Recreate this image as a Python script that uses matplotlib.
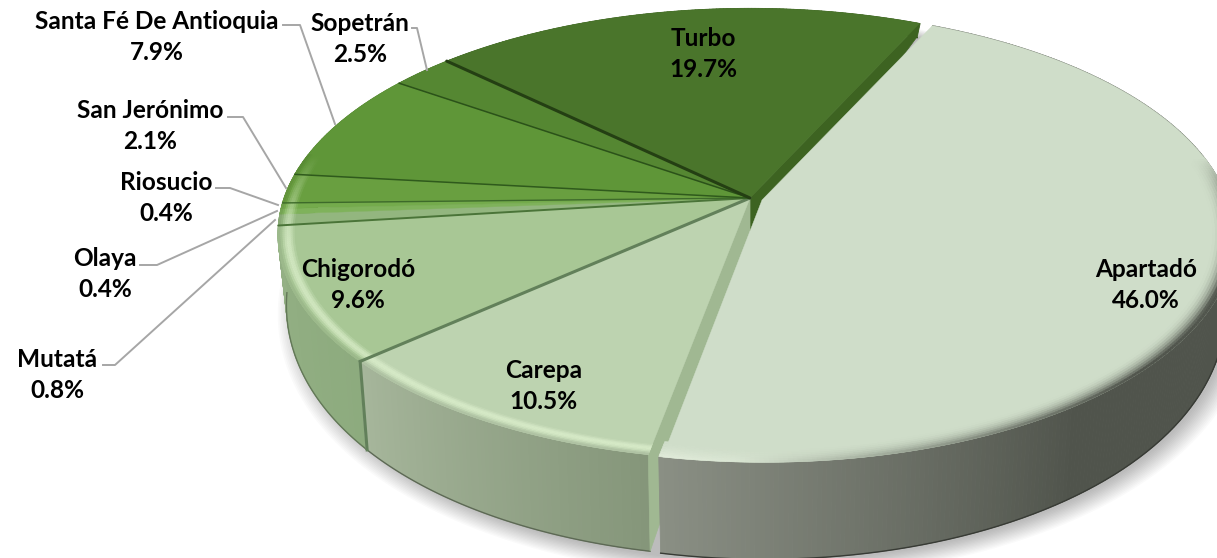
import numpy as np
import matplotlib
matplotlib.use('Agg')
import matplotlib.pyplot as plt
from matplotlib.collections import PolyCollection
from matplotlib.colors import to_rgb

municipios = ['Apartadó', 'Carepa', 'Chigorodó', 'Mutatá', 'Olaya', 'Riosucio',
              'San Jerónimo', 'Santa Fé De Antioquia', 'Sopetrán', 'Turbo']
porcentajes = [46.0, 10.5, 9.6, 0.8, 0.4, 0.4, 2.1, 7.9, 2.5, 19.7]

top_colors = ['#cfddc9', '#bdd3b0', '#a8c795', '#93b67f', '#7fb25b', '#74ab4c',
              '#699f40', '#5f9638', '#558732', '#4a752b']
# wall colour at the first and at the last angle of each slice (clockwise)
wall_start = ['#50544c', '#85967a', '#8dab7e', '#7f9f6c', '#6f9a50', '#6a9646',
              '#5f8d3a', '#558532', '#4b772c', '#3f6524']
wall_end = ['#8a8f84', '#a6b69b', '#94b085', '#7f9f6c', '#6f9a50', '#6a9646',
            '#5f8d3a', '#558532', '#4b772c', '#3f6524']

# layout of the tilted pie, pixels
cx, cy = 750, 198
a, b, k = 466, 220, 0.16
start_deg = 25.0


def depth(v):
    return 64 + 44.5 * v - 11.5 * v * v


def proj(theta, r=1.0, h=0.0, ox=0.0, oy=0.0):
    # theta clockwise from the back of the pie, degrees
    t = np.radians(theta)
    u, v = r * np.sin(t), -r * np.cos(t)
    w = 1 / (1 - k * v)
    return np.column_stack([cx + ox * w + a * u * w * (1 - 0.018 * h),
                            cy + oy * w + b * v * w + h * depth(v)])


def blend(c1, c2, f):
    c1, c2 = np.array(to_rgb(c1)), np.array(to_rgb(c2))
    return tuple(c1 + (c2 - c1) * float(np.clip(f, 0, 1)))


fig = plt.figure(figsize=(12.17, 5.58), dpi=100)
ax = fig.add_axes([0, 0, 1, 1])
ax.set_xlim(0, 1217)
ax.set_ylim(558, 0)
ax.axis('off')

angles = np.cumsum([0] + [p * 3.6 for p in porcentajes]) + start_deg
off = [(12, 2)] + [(0, 0)] * 9


def top_poly(i):
    th = np.linspace(angles[i], angles[i + 1], 200)
    rim = proj(th, ox=off[i][0], oy=off[i][1])
    apex = proj(np.array([0.0]), 0.0, ox=off[i][0], oy=off[i][1])
    return np.vstack([apex, rim])


def cut_face(i, theta, color):
    ox, oy = off[i]
    pts = np.vstack([proj(np.array([theta]), 0.0, 0, ox, oy), proj(np.array([theta]), 1.0, 0, ox, oy),
                     proj(np.array([theta]), 1.0, 1, ox, oy), proj(np.array([theta]), 0.0, 1, ox, oy)])
    ax.fill(pts[:, 0], pts[:, 1], color=color, lw=0.5, zorder=3)


def wall(i, zorder):
    ox, oy = off[i]
    th = np.arange(angles[i], angles[i + 1] + 0.5, 0.5)
    up = proj(th, 1.0, 0, ox, oy)
    low = proj(th, 1.0, 1, ox, oy)
    polys, cols = [], []
    for j in range(len(th) - 1):
        polys.append([up[j], up[j + 1], low[j + 1], low[j]])
        f = j / max(len(th) - 2, 1)
        cols.append(blend(wall_start[i], wall_end[i], (f - 0.72) / 0.28 if i == 0 else f))
    ax.add_collection(PolyCollection(polys, facecolors=cols, edgecolors=cols, linewidths=0.6, zorder=zorder))
    # dark lower edge
    ax.plot(low[:, 0], low[:, 1], color=blend(wall_start[i], '#000000', 0.3), lw=1.0, zorder=zorder)


def bevel(i, zorder):
    ox, oy = off[i]
    th = np.arange(angles[i], angles[i + 1] + 0.5, 0.5)
    radii = np.linspace(0.95 if i == 0 else 0.962, 1.0, 10)
    polys, cols = [], []
    for n in range(len(radii) - 1):
        inner = proj(th, radii[n], 0, ox, oy)
        outer = proj(th, radii[n + 1], 0, ox, oy)
        s = n / (len(radii) - 2)
        for j in range(len(th) - 1):
            t = np.radians(th[j])
            u, v = np.sin(t), -np.cos(t)
            if v < -0.2:
                continue
            fade = min(1.0, (v + 0.2) / 0.4)
            if i == 0:
                # light on the left of the front, dark to the right
                light = np.clip(0.2 - u, 0, 1) * 1.8
                dark = np.clip(u + 0.05, 0, 1) * 1.3
                c = blend(top_colors[i], '#eef6e6', light * s ** 1.5 * 0.8)
                c = blend(c, '#50544c', dark * s ** 2.2 * fade)
            else:
                hump = np.sin(np.pi * min(s * 1.1, 1.0)) ** 1.5
                c = blend(top_colors[i], '#e2f4d2', hump * 0.7 * fade)
                if s > 0.8:
                    c = blend(c, wall_end[i], (s - 0.8) * 3)
            polys.append([inner[j], inner[j + 1], outer[j + 1], outer[j]])
            cols.append(c)
    ax.add_collection(PolyCollection(polys, facecolors=cols, edgecolors=cols, linewidths=0.4, zorder=zorder))


# soft shadow under the pie
th_all = np.linspace(0, 360, 361)
base = proj(th_all, 1.0, 1)
for n in range(14):
    grow = 1 + 0.0035 * (14 - n)
    ax.fill(cx + 14 + (base[:, 0] - cx) * grow, cy + (base[:, 1] - cy + 4) * grow,
            color='black', alpha=0.018, lw=0, zorder=1)

# walls of the group that stays at the centre
for i in [9, 8, 7, 6, 5, 4, 3, 2, 1]:
    wall(i, 2)
cut_face(9, angles[10], '#3d6321')
cut_face(1, angles[1], '#a0b892')

for i in range(1, 10):
    pts = top_poly(i)
    ax.fill(pts[:, 0], pts[:, 1], color=top_colors[i], lw=0.3, zorder=4)
    bevel(i, 5)

# separators between the slices
line_cols = {2: ('#62805a', 2.2), 3: ('#4a7438', 1.4), 6: ('#3d6a2a', 1.0), 7: ('#2f5a1c', 1.1),
             8: ('#2b5219', 1.1), 9: ('#243f13', 2.2)}
for i, (c, lw) in line_cols.items():
    pts = np.vstack([proj(np.array([angles[i]]), 0.0), proj(np.array([angles[i]]), 1.0)])
    ax.plot(pts[:, 0], pts[:, 1], color=c, lw=lw, zorder=6, solid_capstyle='round')
edge = np.vstack([proj(np.array([angles[2]]), 1.0, 0), proj(np.array([angles[2]]), 1.0, 1)])
ax.plot(edge[:, 0], edge[:, 1], color='#62805a', lw=2.2, zorder=6)

# Apartado is pulled out of the pie
wall(0, 7)
pts = top_poly(0)
ax.fill(pts[:, 0], pts[:, 1], color=top_colors[0], lw=0.3, zorder=8)
bevel(0, 9)

# labels
inside = {'Turbo': (703, 54), 'Apartadó': (1146, 285), 'Carepa': (544, 386), 'Chigorodó': (358, 285)}
outside = {'Santa Fé De Antioquia': (157, 37), 'Sopetrán': (360, 39), 'San Jerónimo': (150, 126),
           'Riosucio': (166, 198), 'Olaya': (105, 274), 'Mutatá': (57, 375)}
leaders = {'Santa Fé De Antioquia': [(283, 25), (300, 25), (335, 124)],
           'Sopetrán': [(412, 28), (417, 28), (427, 70)],
           'San Jerónimo': [(228, 117), (243, 117), (286, 188)],
           'Riosucio': [(216, 188), (230, 188), (278, 205)],
           'Olaya': [(140, 265), (157, 265), (277, 211)],
           'Mutatá': [(103, 365), (115, 365), (275, 220)]}
plt.rcParams['font.family'] = ['Lato', 'DejaVu Sans']
for nombre, p in zip(municipios, porcentajes):
    x, y = inside.get(nombre, outside.get(nombre))
    ax.text(x, y, '%s\n%.1f%%' % (nombre, p), ha='center', va='center', fontsize=17.6,
            fontweight='bold', color='black', linespacing=1.45, zorder=12)
    if nombre in leaders:
        xs, ys = zip(*leaders[nombre])
        ax.plot(xs, ys, color='#a6a6a6', lw=1.4, zorder=11)

fig.savefig('out.png', dpi=100)
